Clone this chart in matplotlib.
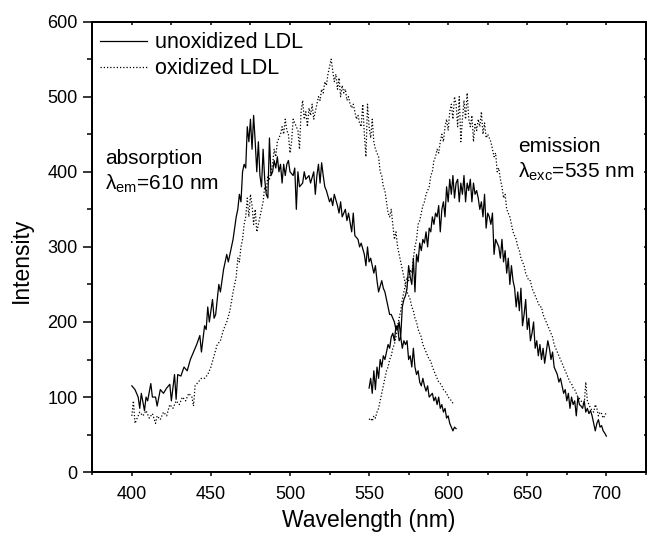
import matplotlib
matplotlib.use("Agg")
import matplotlib.pyplot as plt
from matplotlib.ticker import MultipleLocator

plt.rcParams['font.family'] = ['Liberation Sans', 'DejaVu Sans']
plt.rcParams['mathtext.fontset'] = 'custom'
plt.rcParams['mathtext.rm'] = 'Liberation Sans'
plt.rcParams['mathtext.it'] = 'Liberation Sans:italic'

# ---- data ----
abs_unox_x = [400,402,404,405,406,408,409,410,412,413,415,416,418,420,422,424,425,427,428,429,431,433,435,437,439,441,443,444,446,447,448,449,451,452,453,455,456,458,460,461,463,464,466,467,468,469,470,471,472,473,474,475,476,477,478,479,480,481,482,483,484,485,486,487,488,489,490,491,492,493,494,495,496,497,498,499,500,502,503,504,505,506,508,509,510,512,513,515,516,517,518,519,520,521,522,523,525,526,527,528,530,531,532,533,535,536,537,539,540,541,543,544,545,547,548,549,550,551,553,554,555,556,558,559,560,562,563,564,565,566,567,568,569,570,571,572,573,574,575,576,577,578,579,580,581,582,583,584,585,586,587,588,590,591,592,593,594,595,596,597,598,599,600,601,602,603,604,605]
abs_unox_y = [115,110,100,85,105,82,100,95,118,100,100,88,110,105,112,117,95,130,97,130,128,140,135,150,160,170,182,160,195,190,220,200,230,205,210,250,240,270,290,280,300,310,340,350,370,360,400,410,405,460,440,470,430,475,440,400,440,395,380,430,390,370,365,445,395,400,415,405,420,400,410,385,410,395,410,415,400,395,405,350,400,380,385,400,390,395,385,400,370,395,410,385,412,395,380,375,360,365,355,370,355,345,360,340,350,335,345,320,345,315,310,300,305,290,275,300,280,285,265,275,255,240,255,245,240,220,210,210,205,200,190,195,175,180,165,175,170,175,150,155,140,165,140,130,135,120,115,125,115,108,115,100,105,95,100,90,100,85,90,80,85,72,75,65,60,55,60,58]

abs_ox_x = [400,401,402,403,405,407,409,411,413,415,416,418,420,422,424,426,428,430,432,434,436,438,439,440,442,444,446,448,450,452,454,456,458,460,462,464,465,466,467,468,469,470,471,472,473,474,475,476,477,478,479,480,481,482,483,484,485,486,487,488,489,490,491,492,493,494,495,496,497,498,499,500,501,502,503,505,506,507,508,509,510,511,512,513,514,515,516,517,518,519,520,521,522,523,524,525,526,527,528,529,530,531,532,533,534,535,536,537,538,539,540,541,542,543,544,545,546,547,548,549,550,551,552,553,554,555,556,557,558,559,560,561,562,563,564,565,566,567,568,569,570,571,572,573,574,575,576,577,578,579,580,581,582,583,584,585,586,587,588,589,590,591,592,593,594,595,596,597,598,599,600,601,602,603,604]
abs_ox_y = [75,95,65,70,80,75,82,72,78,65,75,70,80,75,90,85,95,90,100,95,105,100,88,115,120,125,125,130,140,155,170,175,190,200,215,240,250,260,285,280,300,310,330,340,365,340,370,355,330,350,320,330,340,350,360,380,375,395,390,400,410,430,420,440,445,450,460,450,470,455,450,425,440,470,465,455,430,480,495,470,480,460,485,475,490,470,480,490,500,495,510,505,520,515,530,540,550,535,520,530,510,525,500,515,505,510,495,500,490,485,490,480,470,475,465,460,490,450,420,490,460,445,470,440,430,425,420,400,395,380,375,360,345,340,350,330,310,320,300,290,280,270,260,250,240,235,230,220,215,205,200,190,185,180,170,165,160,155,150,148,140,135,130,125,120,118,115,110,108,105,100,98,95,92,90]

em_unox_x = list(range(550, 701))
em_unox_y = [112,125,105,135,110,140,125,150,140,155,150,160,170,165,180,185,175,195,190,200,180,220,230,235,245,275,260,250,285,240,290,280,305,295,310,305,320,300,325,320,340,330,345,340,355,320,350,360,340,380,360,390,370,395,365,385,390,360,385,370,395,360,385,375,390,360,385,370,375,365,350,360,340,370,325,345,340,330,345,290,310,305,300,285,310,280,295,265,285,250,275,255,245,220,240,215,245,195,210,230,190,205,175,185,200,165,175,155,170,150,165,145,160,175,165,150,160,140,135,130,120,125,115,105,110,95,105,85,100,90,95,75,100,90,88,85,95,80,85,78,82,75,65,55,65,70,60,62,55,52,48]

em_ox_x = list(range(550, 701))
em_ox_y = [70,72,68,75,72,80,85,95,105,115,125,135,140,150,155,165,170,180,195,205,215,230,240,250,260,255,270,265,285,300,310,330,335,345,355,360,370,375,380,395,400,415,420,430,425,440,450,440,460,470,455,480,490,470,500,490,460,500,440,470,495,470,505,470,460,475,440,465,455,470,460,480,450,465,445,450,445,440,430,420,425,400,405,390,380,365,370,350,345,340,330,320,315,310,300,295,285,280,275,265,260,255,255,245,240,235,230,225,220,220,210,205,200,195,190,185,180,170,165,160,155,150,145,140,135,130,125,120,118,112,110,105,100,98,95,92,90,120,95,90,85,82,80,90,85,75,80,78,72,75,80]

x_ticks = [400, 450, 500, 550, 600, 650, 700]
y_ticks = [0, 100, 200, 300, 400, 500, 600]

fig = plt.figure(figsize=(6.49, 5.37), dpi=100)
ax = fig.add_axes([0.1422, 0.1207, 0.853, 0.8391])

dot = (0, (1, 1.6))
ax.plot(abs_unox_x, abs_unox_y, color='black', lw=0.9, label='unoxidized LDL')
ax.plot(abs_ox_x, abs_ox_y, color='black', lw=0.9, linestyle=dot, label='oxidized LDL')
ax.plot(em_unox_x, em_unox_y, color='black', lw=0.9)
ax.plot(em_ox_x, em_ox_y, color='black', lw=0.9, linestyle=dot)

ax.set_xlim(375, 725)
ax.set_ylim(0, 600)
ax.set_xticks(x_ticks)
ax.set_yticks(y_ticks)
ax.xaxis.set_minor_locator(MultipleLocator(25))
ax.yaxis.set_minor_locator(MultipleLocator(50))
ax.tick_params(axis='x', which='major', direction='out', length=3.2, width=1.1,
               labelsize=13, pad=7)
ax.tick_params(axis='x', which='minor', direction='out', length=2.4, width=1.1)
ax.tick_params(axis='y', which='major', direction='out', length=6.5, width=1.1,
               labelsize=13, pad=4)
ax.tick_params(axis='y', which='minor', direction='out', length=3.6, width=1.1)

# tiny inward ticks on the top and right frame
twx = ax.twiny()
twx.set_xlim(ax.get_xlim())
twx.set_xticks(x_ticks)
twx.xaxis.set_minor_locator(MultipleLocator(25))
twx.tick_params(axis='x', which='both', direction='in', length=1.8, width=1.1,
                labeltop=False, labelbottom=False)
twy = ax.twinx()
twy.set_ylim(ax.get_ylim())
twy.set_yticks(y_ticks)
twy.yaxis.set_minor_locator(MultipleLocator(50))
twy.tick_params(axis='y', which='both', direction='in', length=1.8, width=1.1,
                labelright=False, labelleft=False)
for a in (ax, twx, twy):
    for s in a.spines.values():
        s.set_linewidth(1.2)

ax.set_xlabel('Wavelength (nm)', fontsize=16.5, labelpad=4)
ax.set_ylabel('Intensity', fontsize=16.5)
ax.yaxis.set_label_coords(-0.108, 0.47)

leg = ax.legend(loc='upper left', bbox_to_anchor=(0.0139, 0.976), frameon=False,
                fontsize=15.5, handlelength=2.19, handletextpad=0.37,
                borderaxespad=0.0, labelspacing=0.22, borderpad=0.0)

ax.text(383, 410, 'absorption', fontsize=15, va='baseline', ha='left')
ax.text(383, 376, 'λ$_{\\mathrm{em}}$=610 nm', fontsize=15, va='baseline', ha='left')
ax.text(644, 426, 'emission', fontsize=15, va='baseline', ha='left')
ax.text(644, 392, 'λ$_{\\mathrm{exc}}$=535 nm', fontsize=15, va='baseline', ha='left')

fig.savefig('out.png', dpi=100)
